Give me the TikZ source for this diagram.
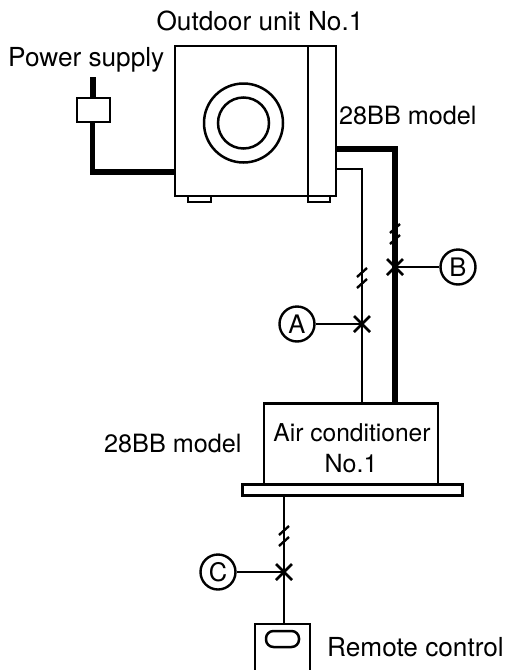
\documentclass[tikz,border=0pt]{standalone}
\usepackage{fontspec}
\setmainfont{TeX Gyre Heros}
\tikzset{
  thin line/.style={line width=2.8pt},
  thick line/.style={line width=5.2pt},
  box/.style={draw,line width=2.5pt,fill=white,inner sep=0pt,outer sep=0pt,minimum width=#1},
  label text/.style={font=\fontsize{#1}{28}\selectfont,inner sep=0pt,text=black},
  label text/.default=26.2,
  ref/.style={draw,circle,line width=2.4pt,fill=white,minimum size=35pt,inner sep=0pt,font=\fontsize{25.5}{28}\selectfont},
  leader/.style={line width=1.7pt},
  cross/.style={line width=2.6pt},
  brk/.style={line width=2.4pt}
}
\newcommand{\xmark}[1]{\draw[cross] (#1)+(-8,-8)--+(8,8) (#1)+(-8,8)--+(8,-8);}
\newcommand{\brkmark}[1]{\draw[brk] (#1)+(-5,-2)--+(5,-11) (#1)+(-5,9)--+(5,0);}
\begin{document}
\begin{tikzpicture}[x=1pt,y=-1pt]
\useasboundingbox (0,0) rectangle (509,670);
% outdoor unit
\node[box=161pt,minimum height=150pt] (unit) at (255.5,121) {};
\draw[line width=2.5pt] (308,46) -- (308,196);
\node[draw,circle,line width=2.5pt,minimum size=79pt,inner sep=0pt] (fanO) at (243.5,123) {};
\node[draw,circle,line width=2.5pt,minimum size=51pt,inner sep=0pt] (fanI) at (243.5,123) {};
\node[box=23pt,minimum height=6pt] (footA) at (199.5,199) {};
\node[box=22pt,minimum height=6pt] (footB) at (319,199) {};
% power
\coordinate (pwrTop) at (93,77);
\coordinate (pwrCorner) at (92.5,172);
\coordinate (pwrEnd) at (174,172);
\draw[thick line,line cap=butt] (pwrTop) -- (93,100);
\draw[thick line,line join=miter] (92.5,120) -- (pwrCorner) -- (pwrEnd);
\node[box=33pt,minimum height=24pt] (plug) at (93.5,110) {};
% AC
\node[box=174pt,minimum height=81pt] (ac) at (351,444) {};
\node[box=220pt,minimum height=11pt] (plate) at (352.5,490) {};
\node[label text=24.6,anchor=base] (acA) at (352,441) {Air conditioner};
\node[label text=25,anchor=base] (acB) at (351,472) {No.1};
% pipes
\coordinate (thinS) at (336,169);
\coordinate (thinC) at (362,169);
\coordinate (thinE) at (362,403);
\coordinate (thickS) at (336,149);
\coordinate (thickC) at (395,149);
\coordinate (thickE) at (395,403);
\draw[thin line,line join=miter] (thinS) -- (thinC) -- (thinE);
\draw[thick line,line join=miter] (thickS) -- (thickC) -- (thickE);
% remote
\node[draw,line width=2.5pt,minimum width=55pt,minimum height=60pt,inner sep=0pt] (remote) at (282.5,654) {};
\node[draw,line width=2.5pt,rounded corners=7.5pt,minimum width=33pt,minimum height=16pt,inner sep=0pt] (slot) at (282.5,639) {};
\coordinate (wireTop) at (284,496);
\coordinate (wireBot) at (284,624);
\draw[thin line] (wireTop) -- (wireBot);
% crossings
\coordinate (xA) at (362,324);
\coordinate (xB) at (395,267);
\coordinate (xC) at (284,572);
\coordinate (bA) at (362,279);
\coordinate (bB) at (395,235);
\coordinate (bC) at (284,537);
\node[ref] (A) at (297,324) {A};
\node[ref] (B) at (458,267) {B};
\node[ref] (C) at (218,572) {C};
\draw[leader] (A) -- (xA);
\draw[leader] (B) -- (xB);
\draw[leader] (C) -- (xC);
\xmark{xA}\xmark{xB}\xmark{xC}
\brkmark{bA}\brkmark{bB}\brkmark{bC}
% labels
\node[label text,anchor=base] (t1) at (260,30.5) {Outdoor unit No.1};
\node[label text,anchor=base west] (t2) at (8,66) {Power supply};
\node[label text=25.2,anchor=base west] (t3) at (339,124) {28BB model};
\node[label text=25.2,anchor=base west] (t4) at (104,452) {28BB model};
\node[label text,anchor=base west] (t5) at (327,656) {Remote control};
\end{tikzpicture}
\end{document}
